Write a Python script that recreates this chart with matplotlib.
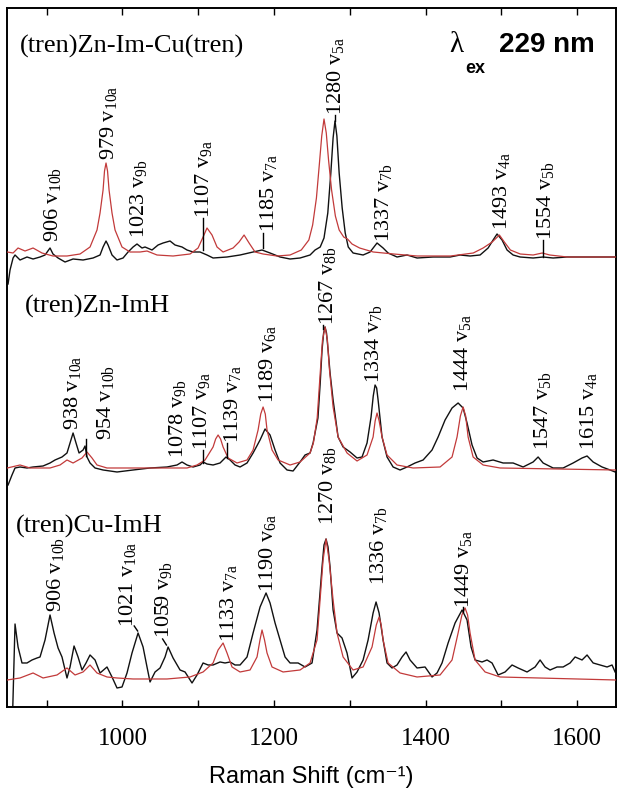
import matplotlib
matplotlib.use("Agg")
import matplotlib.pyplot as plt
from matplotlib.ticker import FixedLocator

plt.rcParams['font.family'] = ['Liberation Serif', 'DejaVu Serif']
plt.rcParams['mathtext.fontset'] = 'custom'
plt.rcParams['mathtext.rm'] = 'Liberation Serif'
plt.rcParams['mathtext.it'] = 'Liberation Serif:italic'
plt.rcParams['mathtext.bf'] = 'Liberation Sans:bold'
plt.rcParams['mathtext.sf'] = 'Liberation Sans'

# ---------------- data (wavenumber, intensity above panel baseline) ----------------
top_exp = [(849, -26), (851.6, -12), (855.6, 0), (858.2, 3), (864.8, -2), (874, 1), (882, -1), (891.2, 1),
           (897.8, 3), (904.4, 10), (908.3, 4), (915, 0), (924.2, -4), (934.8, -1), (948, -2), (961.2, 0),
           (970.4, 3), (974.4, 11), (978.3, 17), (981, 13), (986.2, 3), (992.8, -2), (1000.8, 0), (1007.4, 6),
           (1014, 11), (1019.2, 14), (1025.8, 10), (1029.8, 11), (1039, 8), (1047, 13), (1053.6, 15),
           (1062.8, 17), (1069.4, 13), (1078.6, 11), (1085.2, 8), (1093.2, 6), (1102.4, 6), (1111.6, 3),
           (1119.6, 0), (1138, 1), (1155.2, 3), (1172.4, 6), (1184.2, 8), (1194.8, 5), (1208, 1), (1221.2, -1),
           (1234.4, 0), (1247.6, 3), (1254.2, 8), (1261, 11), (1266, 20), (1271, 45), (1275, 85), (1278, 120),
           (1280.5, 137), (1283, 122), (1286, 85), (1290, 50), (1294, 25), (1298, 11), (1304.4, 5),
           (1317.6, 3), (1326.8, 6), (1336, 15), (1344, 10), (1350.6, 5), (1362.4, 1), (1375.6, 3),
           (1388.8, 0), (1410, 1), (1432.4, 1), (1445.6, 3), (1458.8, 2), (1472, 3), (1482.6, 10),
           (1489.2, 18), (1494.4, 24), (1501, 18), (1507.6, 8), (1515.6, 3), (1524.8, 1), (1542, 0),
           (1555.2, 1), (1568.4, 0), (1586.8, 1), (1608, 1), (1630.4, 1), (1650.2, 1)]

top_calc = [(848, 6), (855.6, 5), (862.2, 10), (871.4, 7), (882, 10), (893.8, 5), (908.3, 2), (926.8, 2),
            (944, 4), (957.2, 11), (966.4, 28), (970.4, 45), (974.4, 68), (976.3, 87), (978.3, 95),
            (980.3, 87), (982.3, 68), (986.2, 45), (990.2, 28), (999.4, 11), (1010, 6), (1023.2, 6),
            (1032.4, 7), (1045.6, 3), (1066.8, 2), (1089.2, 4), (1099.8, 10), (1106.4, 21), (1111.6, 30),
            (1118.2, 23), (1124.8, 11), (1132.8, 6), (1146, 10), (1153.9, 16), (1160.5, 23), (1167.1, 15),
            (1175, 6), (1185.6, 4), (1204, 2), (1221.2, 3), (1236, 8), (1246, 18), (1251, 33), (1256, 60),
            (1260, 95), (1263, 122), (1266, 139), (1269, 125), (1272, 98), (1276, 68), (1281, 42),
            (1286, 28), (1292, 21), (1297, 19), (1303, 14), (1313, 10), (1331, 6), (1358, 4), (1389, 2),
            (1433, 2), (1463, 5), (1476, 10), (1488, 16), (1497.5, 23), (1504, 16), (1512, 8), (1525, 4),
            (1542, 3), (1554, 5), (1564, 3), (1587, 1), (1651, 1)]

mid_exp = [(849, -17), (854.2, -7), (858.2, 0), (864.8, 1), (874, 0), (882, 1), (895.2, 2), (904.4, 5),
           (911, 8), (920.2, 11), (926.8, 15), (930.8, 25), (934.8, 35), (938.7, 25), (942.7, 15), (948, 18),
           (950.6, 22), (953.2, 11), (957.2, 5), (963.8, 0), (974.4, -2), (992.8, -4), (1014, -2),
           (1036.4, 0), (1058.8, 1), (1072, 3), (1078.6, 6), (1085.2, 3), (1093.2, 1), (1102.4, 3),
           (1106.4, 6), (1111.6, 4), (1119.6, 3), (1128.8, 5), (1136.7, 11), (1142, 8), (1148.6, 3),
           (1155.2, 1), (1164.4, 5), (1172.4, 15), (1181.6, 28), (1188.2, 39), (1194.8, 33), (1201.4, 18),
           (1208, 5), (1217.2, -2), (1225.2, -3), (1234.4, 6), (1241, 13), (1247.6, 15), (1251.6, 25),
           (1258, 50), (1261, 85), (1263.4, 118), (1265.5, 135), (1267.4, 141), (1269.3, 135),
           (1271.4, 118), (1274, 95), (1278, 68), (1284.6, 31), (1291.2, 21), (1300.4, 16), (1309.6, 10),
           (1316.2, 11), (1322.8, 25), (1328.1, 51), (1331, 72), (1333.4, 83), (1335.5, 80), (1337.4, 68),
           (1342.6, 31), (1349.2, 11), (1357.2, 1), (1366.4, -2), (1375.6, 1), (1386.2, 5), (1396.8, 8),
           (1408.6, 18), (1416.6, 31), (1425.8, 48), (1435, 60), (1443, 65), (1449.6, 60), (1454.8, 45),
           (1461.4, 23), (1468, 10), (1476, 6), (1489.2, 8), (1502.4, 5), (1515.6, 5), (1528.8, 1),
           (1542, 6), (1548.6, 11), (1555.2, 5), (1568.4, 0), (1581.6, 0), (1594.8, 5), (1606.6, 10),
           (1613.2, 12), (1621.2, 6), (1633, 1), (1643.6, -2), (1650.2, -4)]

mid_calc = [(848, 0), (864.8, 3), (878, 0), (904.4, 0), (917.6, 3), (926.8, 8), (934.8, 5), (946.6, 10),
            (953.2, 16), (959.8, 10), (966.4, 3), (979.6, 0), (1085.2, 0), (1098.4, 3), (1109, 8),
            (1119.6, 21), (1123, 29), (1126.2, 33), (1129.5, 29), (1132.8, 21), (1139.4, 10), (1151.2, 5),
            (1164.4, 8), (1172.4, 18), (1179, 38), (1182.5, 54), (1185.6, 61), (1188.5, 54), (1190.8, 38),
            (1197.4, 18), (1205.4, 8), (1221.2, 3), (1234.4, 6), (1247.6, 15), (1252, 25), (1257, 50),
            (1261, 95), (1264, 128), (1267.4, 141), (1270.5, 128), (1273, 100), (1278, 61), (1284.6, 31),
            (1296.4, 15), (1309.6, 7), (1322.8, 13), (1330.8, 31), (1333.5, 47), (1336, 55), (1338.8, 47),
            (1342.6, 31), (1349.2, 13), (1362.4, 3), (1383.6, 0), (1419.2, 1), (1435, 11), (1441.6, 31),
            (1446, 52), (1449.6, 61), (1453, 52), (1456.2, 31), (1462.8, 11), (1476, 3), (1498.4, 0),
            (1651, -2)]

bot_exp = [(853, -90), (858.2, 56), (862.2, 33), (867.4, 17), (874, 17), (880.6, 20), (887.2, 22),
           (891.2, 23), (897.8, 40), (904.4, 65), (909.7, 47), (915, 32), (920.2, 23), (926.8, 2),
           (930.8, 13), (936.1, 34), (941.4, 23), (946.6, 10), (951.9, 17), (957.2, 25), (963.8, 20),
           (970.4, 7), (979.6, 13), (986.2, 3), (992.8, -8), (999.4, -7), (1006, 7), (1012.6, 27),
           (1020.6, 47), (1027.2, 33), (1032.4, 13), (1036.4, -2), (1043, 8), (1049.6, 12), (1056.2, 23),
           (1060.2, 33), (1066.8, 22), (1076, 10), (1082.6, 8), (1091.8, -3), (1098.4, 5), (1106.4, 17),
           (1113, 15), (1119.6, 15), (1128.8, 18), (1135.4, 17), (1142, 18), (1148.6, 15), (1155.2, 15),
           (1164.4, 23), (1172.4, 47), (1181.6, 73), (1189.5, 87), (1194.8, 77), (1201.4, 57), (1208, 40),
           (1214.6, 23), (1221.2, 17), (1231.8, 17), (1241, 13), (1250.2, 17), (1256.8, 50), (1260.5, 85),
           (1263.4, 113), (1266, 135), (1268.7, 141), (1271.3, 133), (1274, 113), (1278, 70), (1283.2, 47),
           (1289.8, 42), (1296.4, 27), (1303, 2), (1309.6, 8), (1317.6, 20), (1324.2, 40), (1330.8, 67),
           (1334.7, 78), (1338.7, 67), (1344, 40), (1349.2, 17), (1355.8, 12), (1362.4, 15), (1369, 23),
           (1374.3, 28), (1379.6, 20), (1388.8, 12), (1399.4, 13), (1408.6, 3), (1415.2, 7), (1421.8, 17),
           (1429.8, 37), (1439, 57), (1448.2, 70), (1454.8, 60), (1460.1, 33), (1465.4, 20), (1474.6, 18),
           (1481.2, 20), (1487.8, 17), (1495.8, 5), (1505, 8), (1514.2, 15), (1522.2, 12), (1534, 8),
           (1544.6, 13), (1551.2, 20), (1557.8, 13), (1564.4, 10), (1573.6, 13), (1581.6, 13), (1590.8, 17),
           (1597.4, 23), (1606.6, 20), (1613.2, 25), (1621.2, 17), (1630.4, 15), (1639.6, 13), (1646.2, 15),
           (1650.2, 8)]

bot_calc = [(848, 0), (864.8, 2), (882, 7), (895.2, 2), (913.6, 5), (926.8, 12), (937.4, 5), (948, 8),
            (957.2, 15), (966.4, 7), (979.6, 3), (992.8, 2), (1014, 1), (1058.8, 1), (1089.2, 3),
            (1106.4, 8), (1119.6, 17), (1126.2, 30), (1132.8, 37), (1138, 27), (1144.6, 13), (1155.2, 8),
            (1168.4, 10), (1177.6, 23), (1181.5, 40), (1184.2, 50), (1187.5, 40), (1190.8, 27), (1197.4, 13),
            (1212, 8), (1234.4, 10), (1247.6, 17), (1256.8, 40), (1260.8, 80), (1264.8, 120), (1268.7, 141),
            (1272.7, 120), (1278, 80), (1283.2, 47), (1291.2, 23), (1304.4, 10), (1317.6, 13), (1329.4, 33),
            (1335, 55), (1338.7, 63), (1341.5, 55), (1344, 40), (1350.6, 17), (1366.4, 7), (1388.8, 3),
            (1419.2, 5), (1435, 20), (1443, 47), (1448, 65), (1452.2, 72), (1455.5, 65), (1458.8, 47),
            (1465.4, 20), (1478.6, 8), (1498.4, 3), (1651, 0)]

panel_titles = ["(tren)Zn-Im-Cu(tren)", "(tren)Zn-ImH", "(tren)Cu-ImH"]

top_freqs = ["906", "979", "1023", "1107", "1185", "1280", "1337", "1493", "1554"]
top_modes = ["10b", "10a", "9b", "9a", "7a", "5a", "7b", "4a", "5b"]
mid_freqs = ["938", "954", "1078", "1107", "1139", "1189", "1267", "1334", "1444", "1547", "1615"]
mid_modes = ["10a", "10b", "9b", "9a", "7a", "6a", "8b", "7b", "5a", "5b", "4a"]
bot_freqs = ["906", "1021", "1059", "1133", "1190", "1270", "1336", "1449"]
bot_modes = ["10b", "10a", "9b", "7a", "6a", "8b", "7b", "5a"]

x_major = [1000, 1200, 1400, 1600]
x_major_labels = ["1000", "1200", "1400", "1600"]
x_minor = [900, 1100, 1300, 1500]

# ---------------- layout ----------------
offsets = [449, 239, 27]
top_lab_pos = [(893.8, 465), (967.8, 547), (1007.4, 469), (1093.2, 489), (1179, 475), (1267.4, 592),
               (1330.8, 465), (1486.5, 477), (1544.6, 467)]
mid_lab_pos = [(920.2, 277), (963.8, 267), (1058.8, 249), (1090.5, 257), (1131.4, 264), (1177.6, 304),
               (1256.8, 382), (1317.6, 324), (1435, 315), (1540.6, 257), (1601.4, 257)]
bot_lab_pos = [(897.8, 95), (992.8, 80), (1040.4, 69), (1126.2, 65), (1177.6, 115), (1256.8, 182),
               (1324.2, 122), (1436.4, 99)]
leaders = [((1106.4, 1106.4), (457, 489)), ((1185.6, 1185.6), (459, 474)), ((1280.6, 1280.6), (586, 592)),
           ((1555.2, 1555.2), (450, 467)), ((951.9, 951.9), (251, 268)), ((1106.4, 1106.4), (244, 257)),
           ((1138, 1138), (249, 264)), ((1264.8, 1264.8), (378, 382)), ((1015.5, 1020), (81, 76)),
           ((1053, 1058), (68, 62)), ((1449.6, 1449.6), (95, 100))]
title_pos = [(0.0209, 0.9356), (0.0291, 0.5637), (0.0143, 0.249)]

BLACK = "#111111"
RED = "#c23a3a"

fig = plt.figure(figsize=(6.24, 8.09), dpi=100)
ax = fig.add_axes([0.0117, 0.1261, 0.975, 0.864])

for exp, calc, off in zip([top_exp, mid_exp, bot_exp], [top_calc, mid_calc, bot_calc], offsets):
    ax.plot([p[0] for p in exp], [p[1] + off for p in exp], color=BLACK, lw=1.0, zorder=2)
    ax.plot([p[0] for p in calc], [p[1] + off for p in calc], color=RED, lw=0.9, zorder=3)

for freqs, modes, poss in [(top_freqs, top_modes, top_lab_pos), (mid_freqs, mid_modes, mid_lab_pos),
                           (bot_freqs, bot_modes, bot_lab_pos)]:
    for f, m, (lx, ly) in zip(freqs, modes, poss):
        ax.text(lx, ly, f + r" $\mathrm{v}_{\mathrm{" + m + "}}$", rotation=90, ha='left', va='bottom',
                fontsize=16, family='Liberation Serif', color='black', zorder=4)

for (xs, ys) in leaders:
    ax.plot(xs, ys, color='black', lw=1.0, zorder=4)

for t, (tx, ty) in zip(panel_titles, title_pos):
    ax.text(tx, ty, t, transform=ax.transAxes, ha='left', va='baseline', fontsize=19,
            family='Liberation Serif')

ax.text(0.727, 0.937, "λ", transform=ax.transAxes, ha='left', va='baseline', fontsize=21,
        family='Liberation Serif')
ax.text(0.752, 0.907, "ex", transform=ax.transAxes, ha='left', va='baseline', fontsize=13,
        family='Liberation Sans', weight='bold')
ax.text(0.966, 0.937, "229 nm", transform=ax.transAxes, ha='right', va='baseline', fontsize=20,
        family='Liberation Sans', weight='bold')

ax.set_xlim(848, 1651)
ax.set_ylim(0, 699)
ax.set_xticks(x_major, labels=x_major_labels)
ax.xaxis.set_minor_locator(FixedLocator(x_minor))
ax.tick_params(axis='x', which='both', direction='in', top=True, bottom=True, length=5, width=1,
               labelsize=18, pad=15)
for lab in ax.get_xticklabels():
    lab.set_fontfamily('Liberation Serif')
ax.tick_params(axis='y', which='both', left=False, right=False, labelleft=False)
for s in ax.spines.values():
    s.set_linewidth(1.4)

ax.set_xlabel("Raman Shift (cm⁻¹)", fontsize=17, family=['Liberation Sans', 'DejaVu Sans'])
ax.xaxis.set_label_coords(0.5, -0.085)

fig.savefig("out.png", dpi=100)
